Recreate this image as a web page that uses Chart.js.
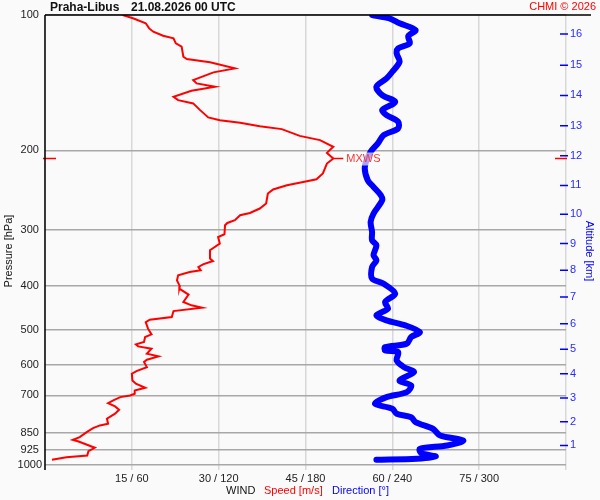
<!DOCTYPE html>
<html>
<head>
<meta charset="utf-8">
<script src="https://cdn.jsdelivr.net/npm/chart.js@4/dist/chart.umd.min.js"></script>
<style>
  html, body { margin: 0; padding: 0; background: #fafafa; }
  #wrap { width: 600px; height: 500px; }
</style>
</head>
<body>
<div id="wrap"><canvas id="chart"></canvas></div>
<script>
// wind speed profile (pressure hPa -> m/s)
const speedPres = [100, 101.7, 104.3, 107.1, 108.9, 111.2, 112.7, 115.6, 117.6, 123.8,
  125.3, 127.4, 131.4, 134.1, 139.5, 141.9, 144.3, 147.4, 152.0, 154.6,
  157.2, 162.7, 168.9, 171.3, 173.6, 176.6, 179.3, 185.6, 189.7, 196.3,
  202.5, 208.4, 213.8, 225.0, 231.7, 234.9, 238.9, 244.2, 249.3, 262.4,
  269.2, 275.4, 278.6, 285.8, 289.8, 293.2, 307.1, 311.4, 322.1, 333.3,
  347.8, 352.1, 358.1, 363.1, 369.3, 372.5, 378.9, 388.7, 400.9, 405.5,
  418.2, 434.3, 441.8, 447.0, 454.9, 469.1, 475.4, 481.3, 497.8, 512.5,
  519.6, 533.1, 539.4, 545.0, 551.4, 565.7, 573.6, 583.4, 590.6, 606.0,
  618.5, 626.8, 648.7, 659.8, 673.4, 682.8, 694.4, 700.5, 706.6, 718.6,
  728.6, 741.0, 753.6, 769.2, 789.2, 809.6, 816.7, 828.1, 845.2, 867.2,
  878.9, 886.5, 915.6, 931.7, 952.4, 960.7, 973.7];
const speedVals = [13.4, 15.2, 17.4, 18.0, 18.7, 20.4, 22.2, 22.6, 23.6, 23.9,
  24.5, 28.5, 32.8, 29.1, 25.6, 26.2, 29.4, 25.3, 22.2, 23.0,
  25.6, 26.8, 28.2, 30.2, 33.7, 37.1, 40.9, 44.0, 47.5, 49.8,
  48.7, 49.8, 48.7, 48.0, 46.9, 44.6, 41.8, 39.4, 38.5, 38.2,
  37.1, 35.4, 33.7, 32.8, 31.5, 31.1, 31.0, 29.9, 30.2, 28.5,
  28.5, 29.0, 27.3, 26.5, 26.9, 25.0, 23.0, 22.8, 23.3, 23.2,
  24.8, 23.9, 25.3, 27.1, 22.2, 21.9, 18.1, 17.4, 17.8, 18.4,
  17.3, 17.1, 15.7, 16.1, 18.4, 17.6, 19.6, 17.6, 17.1, 17.6,
  15.8, 15.0, 15.1, 15.7, 17.3, 15.5, 15.5, 14.7, 13.0, 11.8,
  10.9, 12.1, 12.8, 12.1, 10.7, 10.9, 9.5, 8.3, 7.2, 6.0,
  4.8, 5.8, 8.6, 7.5, 7.3, 3.7, 1.2];

// wind direction profile (pressure hPa -> degrees)
const dirPres = [100, 101.7, 104.3, 108.0, 111.4, 115.6, 118.6, 121.7, 127.0, 133.7,
  138.3, 144.3, 150.7, 156.0, 162.7, 166.9, 172.7, 178.7, 184.9, 192.9,
  201.4, 217.5, 232.9, 241.0, 251.4, 257.9, 276.2, 288.3, 303.4, 316.6,
  324.8, 341.9, 350.8, 363.1, 385.3, 395.4, 416.1, 434.3, 449.3, 464.9,
  477.0, 489.4, 506.5, 519.6, 537.5, 547.0, 556.3, 561.2, 585.5, 606.0,
  621.7, 648.7, 665.5, 688.8, 706.6, 730.9, 749.8, 769.2, 782.8, 803.0,
  830.7, 859.7, 882.0, 904.8, 920.3, 941.3, 957.4, 968.8, 973.7];
const dirVals = [226, 238, 245, 256, 251, 252, 244, 243, 245, 240,
  236, 229, 233, 242, 233, 236, 244, 244, 234, 230,
  225, 221, 223, 227, 232, 233, 227, 225, 226, 226,
  229, 227, 229, 226, 226, 234, 242, 235, 237, 229,
  236, 249, 259, 253, 250, 235, 235, 244, 243, 248,
  255, 245, 253, 250, 236, 228, 240, 243, 253, 256,
  268, 273, 289, 278, 259, 260, 270, 257, 229];

const pressureTicks = [100, 200, 300, 400, 500, 600, 700, 850, 925, 1000];
const speedTicks = [15, 30, 45, 60, 75];
const altKm = [1, 2, 3, 4, 5, 6, 7, 8, 9, 10, 11, 12, 13, 14, 15, 16];
const altPres = [904.5, 801.3, 710.2, 626.8, 553.4, 485.2, 423.3, 369.1,
  322.1, 277.2, 239.2, 205.6, 176.3, 150.9, 129.4, 110.2];

// max wind level
const mxwsPres = 208.4;
const mxwsSpeed = 49.8;

const FONT = '"Liberation Sans", Arial, sans-serif';
const BLUE = '#0000ff';
const RED = '#ff0000';

const toPoints = (pres, vals) => pres.map((p, i) => ({ x: vals[i], y: p }));

const decorations = {
  id: 'decorations',
  beforeDraw(chart) {
    const ctx = chart.ctx;
    ctx.save();
    ctx.fillStyle = '#fafafa';
    ctx.fillRect(0, 0, chart.width, chart.height);
    ctx.restore();
  },
  afterDatasetsDraw(chart) {
    const ctx = chart.ctx;
    const xs = chart.scales.x, ys = chart.scales.y;
    const area = chart.chartArea;
    const px = xs.getPixelForValue(mxwsSpeed);
    const py = ys.getPixelForValue(mxwsPres);
    ctx.save();
    ctx.strokeStyle = RED;
    ctx.lineWidth = 1.5;
    ctx.beginPath();
    ctx.moveTo(px, py); ctx.lineTo(px + 10, py);
    ctx.moveTo(area.left - 2, py); ctx.lineTo(area.left + 11, py);
    ctx.moveTo(area.right - 11, py); ctx.lineTo(area.right + 1, py);
    ctx.stroke();
    ctx.font = '11px ' + FONT;
    const w = ctx.measureText('MXWS').width;
    ctx.fillStyle = 'rgba(255,255,255,0.65)';
    ctx.fillRect(px + 11, py - 6, w + 4, 13);
    ctx.fillStyle = '#ff3333';
    ctx.textBaseline = 'middle';
    ctx.fillText('MXWS', px + 13, py + 0.5);
    ctx.restore();
  },
  afterDraw(chart) {
    const ctx = chart.ctx;
    const area = chart.chartArea;
    const ys = chart.scales.y;
    ctx.save();
    // frame lines
    ctx.strokeStyle = '#000';
    ctx.lineWidth = 1.5;
    ctx.beginPath();
    ctx.moveTo(area.left, area.top); ctx.lineTo(591, area.top);
    ctx.moveTo(area.left, area.top); ctx.lineTo(area.left, area.bottom + 5);
    ctx.stroke();
    // altitude tick marks
    ctx.strokeStyle = BLUE;
    ctx.beginPath();
    altPres.forEach(p => {
      const y = ys.getPixelForValue(p);
      ctx.moveTo(area.right - 6, y); ctx.lineTo(area.right + 2, y);
    });
    ctx.stroke();
    // title and copyright
    ctx.textBaseline = 'middle';
    ctx.fillStyle = '#111';
    ctx.font = 'bold 12px ' + FONT;
    ctx.fillText('Praha-Libus', 50, 8);
    ctx.fillText('21.08.2026 00 UTC', 131, 8);
    ctx.font = '11px ' + FONT;
    ctx.fillStyle = RED;
    ctx.textAlign = 'right';
    ctx.fillText('CHMI \u00a9 2026', 596, 7);
    // bottom legend
    ctx.textAlign = 'left';
    ctx.fillStyle = '#111';
    ctx.fillText('WIND', 226, 491);
    ctx.fillStyle = RED;
    ctx.fillText('Speed [m/s]', 264, 491);
    ctx.fillStyle = BLUE;
    ctx.fillText('Direction [\u00b0]', 332, 491);
    // axis titles
    const midY = 251;
    ctx.textAlign = 'center';
    ctx.fillStyle = '#111';
    ctx.translate(8.5, midY);
    ctx.rotate(-Math.PI / 2);
    ctx.fillText('Pressure [hPa]', 0, 0);
    ctx.setTransform(chart.currentDevicePixelRatio, 0, 0, chart.currentDevicePixelRatio, 0, 0);
    ctx.fillStyle = BLUE;
    ctx.translate(589, midY);
    ctx.rotate(Math.PI / 2);
    ctx.fillText('Altitude [km]', 0, 0);
    ctx.restore();
  }
};

new Chart(document.getElementById('chart'), {
  type: 'scatter',
  data: {
    datasets: [
      {
        label: 'Speed [m/s]',
        data: toPoints(speedPres, speedVals),
        showLine: true,
        borderColor: RED,
        borderWidth: 2,
        pointRadius: 0,
        xAxisID: 'x',
        yAxisID: 'y'
      },
      {
        label: 'Direction [°]',
        data: toPoints(dirPres, dirVals),
        showLine: true,
        tension: 0.3,
        borderColor: BLUE,
        borderWidth: 6,
        borderJoinStyle: 'round',
        borderCapStyle: 'round',
        pointRadius: 0,
        xAxisID: 'xDir',
        yAxisID: 'y'
      }
    ]
  },
  options: {
    responsive: true,
    maintainAspectRatio: false,
    animation: false,
    layout: { padding: { top: 15 } },
    plugins: { legend: { display: false }, tooltip: { enabled: false } },
    scales: {
      x: {
        type: 'linear',
        position: 'bottom',
        min: 0,
        max: 90,
        afterBuildTicks: s => { s.ticks = [0, ...speedTicks, 90].map(v => ({ value: v })); },
        afterFit: s => { s.height = 35; },
        ticks: {
          autoSkip: false,
          maxRotation: 0,
          padding: 2,
          color: '#222',
          font: { family: FONT, size: 11 },
          callback: v => (speedTicks.includes(v) ? v + ' / ' + v * 4 : '')
        },
        grid: { color: '#d8d8d8', lineWidth: 1.5, tickLength: 5 },
        border: { display: false }
      },
      xDir: {
        type: 'linear',
        display: false,
        min: 0,
        max: 360
      },
      y: {
        type: 'logarithmic',
        position: 'left',
        min: 100,
        max: 1000,
        reverse: true,
        afterBuildTicks: s => { s.ticks = pressureTicks.map(v => ({ value: v })); },
        afterFit: s => { s.width = 45; },
        ticks: {
          autoSkip: false,
          crossAlign: 'center',
          padding: 3,
          color: '#222',
          font: { family: FONT, size: 11 },
          callback: v => String(v)
        },
        grid: { color: '#a8a8a8', lineWidth: 1.5, drawTicks: false },
        border: { display: false }
      },
      yAlt: {
        type: 'logarithmic',
        position: 'right',
        min: 100,
        max: 1000,
        reverse: true,
        afterBuildTicks: s => { s.ticks = altPres.map(v => ({ value: v })); },
        afterFit: s => { s.width = 34; },
        ticks: {
          autoSkip: false,
          padding: 4,
          color: '#2a2aff',
          font: { family: FONT, size: 11 },
          callback: (v, i) => String(altKm[i])
        },
        grid: { display: false, drawTicks: false },
        border: { display: false }
      }
    }
  },
  plugins: [decorations]
});
</script>
</body>
</html>
